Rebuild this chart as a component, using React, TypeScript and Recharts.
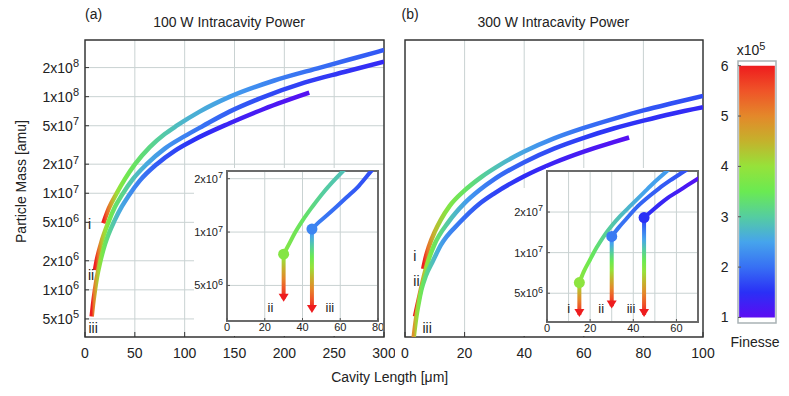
import React from "react";
import {
  ComposedChart,
  Line,
  Scatter,
  XAxis,
  YAxis,
  CartesianGrid,
  ReferenceArea,
} from "recharts";

const FONT = "'Liberation Sans', Arial, Helvetica, sans-serif";
const GRID = "#c9d2d2";
const INK = "#222";

// finesse colour scale (x10^5)
const FINESSE_STOPS = [1, 1.5, 2, 2.5, 3, 3.5, 4, 4.5, 5, 5.5, 6];
const FINESSE_COLORS = [
  "#5b0cf2", "#2a30f6", "#3770f4", "#46a4ec", "#55cda0", "#6aea52",
  "#96e23a", "#c4b22c", "#e4882a", "#ef5428", "#ee1c1e",
];
const FINESSE_TICKS = [1, 2, 3, 4, 5, 6];
const FINESSE_DOMAIN = [0.89, 6.093];

// shared particle mass axis (amu)
const MASS_TICKS = [5e5, 1e6, 2e6, 5e6, 1e7, 2e7, 5e7, 1e8, 2e8];
const MASS_DOMAIN = [3.25e5, 3.86e8];

// (a) 100 W intracavity power
const A_X_DOMAIN = [0, 300];
const A_X_TICKS = [0, 50, 100, 150, 200, 250, 300];
const A_I = [
  { x: 18.4, y: 4.9e6 }, { x: 24, y: 7e6 }, { x: 31.8, y: 1e7 }, { x: 40, y: 1.4e7 },
  { x: 50.2, y: 2e7 }, { x: 65, y: 3e7 }, { x: 80, y: 4.1e7 }, { x: 92, y: 5e7 },
  { x: 115, y: 7e7 }, { x: 145.5, y: 1e8 }, { x: 190, y: 1.47e8 }, { x: 236, y: 2e8 },
  { x: 270, y: 2.5e8 }, { x: 300, y: 3.04e8 },
];
const A_I_F = [[18.4, 6], [22, 5.3], [27, 4.6], [32, 4.0], [40, 3.6], [55, 3.3], [75, 3.0], [100, 2.7], [150, 2.4], [200, 2.1], [300, 1.8]];
const A_II = [
  { x: 10, y: 1.6e6 }, { x: 11.7, y: 2e6 }, { x: 16, y: 3e6 }, { x: 23.4, y: 5e6 },
  { x: 30, y: 7.2e6 }, { x: 36.8, y: 9.5e6 }, { x: 48, y: 1.4e7 }, { x: 61.9, y: 2e7 },
  { x: 80, y: 2.9e7 }, { x: 100, y: 3.9e7 }, { x: 118.7, y: 5e7 }, { x: 145, y: 7e7 },
  { x: 175.6, y: 9.6e7 }, { x: 220, y: 1.4e8 }, { x: 260, y: 1.8e8 }, { x: 300, y: 2.3e8 },
];
const A_II_F = [[10, 6], [13, 5.2], [16, 4.5], [20, 4.0], [25, 3.6], [32, 3.3], [42, 3.0], [60, 2.6], [85, 2.3], [120, 2.0], [180, 1.7], [300, 1.4]];
const A_III = [
  { x: 6.7, y: 5.3e5 }, { x: 8, y: 7e5 }, { x: 10, y: 1e6 }, { x: 12, y: 1.35e6 },
  { x: 15, y: 1.9e6 }, { x: 20, y: 2.95e6 }, { x: 30, y: 5.3e6 }, { x: 37, y: 7.3e6 },
  { x: 44, y: 9.5e6 }, { x: 55, y: 1.35e7 }, { x: 72, y: 2e7 }, { x: 90, y: 2.75e7 },
  { x: 110, y: 3.6e7 }, { x: 145, y: 5.3e7 }, { x: 180, y: 7.5e7 }, { x: 225, y: 1.1e8 },
];
const A_III_F = [[6.7, 6], [8.5, 5.2], [11, 4.6], [14, 4.1], [18, 3.6], [25, 3.1], [35, 2.6], [50, 2.2], [75, 1.8], [110, 1.5], [160, 1.25], [225, 1.05]];

// (b) 300 W intracavity power
const B_X_DOMAIN = [0, 100];
const B_X_TICKS = [0, 20, 40, 60, 80, 100];
const B_I = [
  { x: 6.1, y: 1.65e6 }, { x: 7, y: 2.2e6 }, { x: 8, y: 2.8e6 }, { x: 10, y: 4e6 },
  { x: 12, y: 5.3e6 }, { x: 15, y: 7.4e6 }, { x: 20, y: 1.07e7 }, { x: 25.7, y: 1.48e7 },
  { x: 32, y: 1.98e7 }, { x: 40, y: 2.7e7 }, { x: 50, y: 3.7e7 }, { x: 60, y: 4.75e7 },
  { x: 70, y: 5.9e7 }, { x: 80, y: 7.2e7 }, { x: 90, y: 8.6e7 }, { x: 100, y: 1.02e8 },
];
const B_I_F = [[6.1, 6], [7.5, 5.2], [10, 4.4], [14, 3.8], [20, 3.4], [27, 3.0], [37, 2.6], [45, 2.35], [60, 2.0], [80, 1.8], [100, 1.7]];
const B_II = [
  { x: 3.35, y: 5.3e5 }, { x: 4.2, y: 7e5 }, { x: 5.3, y: 1e6 }, { x: 6.5, y: 1.45e6 },
  { x: 7.8, y: 2e6 }, { x: 10, y: 3e6 }, { x: 14.5, y: 5e6 }, { x: 20, y: 7.9e6 },
  { x: 25, y: 1.08e7 }, { x: 30, y: 1.4e7 }, { x: 40, y: 2.1e7 }, { x: 50, y: 2.9e7 },
  { x: 60, y: 3.75e7 }, { x: 70, y: 4.68e7 }, { x: 80, y: 5.65e7 }, { x: 90, y: 6.7e7 },
  { x: 100, y: 7.77e7 },
];
const B_II_F = [[3.35, 6], [4.3, 5.2], [5.5, 4.6], [7, 4.0], [9, 3.6], [12, 3.2], [16, 2.8], [21, 2.4], [30, 2.0], [45, 1.75], [65, 1.55], [100, 1.4]];
const B_III = [
  { x: 2.8, y: 3e5 }, { x: 3.7, y: 5e5 }, { x: 4.6, y: 7.3e5 }, { x: 5.5, y: 1e6 },
  { x: 7, y: 1.4e6 }, { x: 9.4, y: 2e6 }, { x: 12, y: 2.9e6 }, { x: 18.4, y: 5e6 },
  { x: 25, y: 7.8e6 }, { x: 30, y: 1e7 }, { x: 40, y: 1.5e7 }, { x: 50, y: 2.07e7 },
  { x: 60, y: 2.7e7 }, { x: 70, y: 3.38e7 }, { x: 75.2, y: 3.78e7 },
];
const B_III_F = [[2.8, 4.9], [3.5, 4.3], [4.5, 3.8], [6, 3.4], [8, 3.0], [11, 2.6], [14, 2.3], [19, 2.0], [28, 1.7], [40, 1.45], [55, 1.25], [75.2, 1.05]];

// inset of (a)
const IA_X_DOMAIN = [0, 80];
const IA_X_TICKS = [0, 20, 40, 60, 80];
const IA_X_GRID = [20, 40, 60];
const IA_Y_DOMAIN = [3.15e6, 2.21e7];
const IA_Y_TICKS = [5e6, 1e7, 2e7];
const IA_II = [
  { x: 30, y: 7.5e6 }, { x: 33, y: 8.6e6 }, { x: 36, y: 9.9e6 }, { x: 40, y: 1.16e7 },
  { x: 45, y: 1.38e7 }, { x: 50, y: 1.62e7 }, { x: 55, y: 1.87e7 }, { x: 61.5, y: 2.21e7 },
  { x: 65, y: 2.4e7 },
];
const IA_II_F = [[30, 3.8], [40, 3.4], [51, 3.0], [65, 2.8]];
const IA_III = [
  { x: 45, y: 1.04e7 }, { x: 48, y: 1.12e7 }, { x: 52.8, y: 1.24e7 }, { x: 58, y: 1.39e7 },
  { x: 63.4, y: 1.57e7 }, { x: 70, y: 1.83e7 }, { x: 75.8, y: 2.17e7 }, { x: 79, y: 2.38e7 },
];
const IA_III_F = [[45, 2.2], [55, 2.0], [70, 1.8], [79, 1.7]];
const IA_ARROWS = [
  { x: 30, top: 7.5e6, tip: 4.05e6, f: 3.8 },
  { x: 45, top: 1.04e7, tip: 3.5e6, f: 2.2 },
];

// inset of (b)
const IB_X_DOMAIN = [0, 70];
const IB_X_TICKS = [0, 20, 40, 60];
const IB_X_GRID = [10, 20, 30, 40, 50, 60];
const IB_Y_DOMAIN = [3.06e6, 4.03e7];
const IB_Y_TICKS = [5e6, 1e7, 2e7];
const IB_I = [
  { x: 15, y: 6e6 }, { x: 17, y: 7.2e6 }, { x: 20, y: 8.9e6 }, { x: 23, y: 1.09e7 },
  { x: 26, y: 1.3e7 }, { x: 30, y: 1.58e7 }, { x: 34, y: 1.87e7 }, { x: 39, y: 2.25e7 },
  { x: 45, y: 2.8e7 }, { x: 50, y: 3.35e7 }, { x: 55, y: 3.95e7 }, { x: 57, y: 4.2e7 },
];
const IB_I_F = [[15, 3.9], [20, 3.5], [26, 3.1], [34, 2.8], [45, 2.5], [57, 2.4]];
const IB_II = [
  { x: 30, y: 1.32e7 }, { x: 33, y: 1.52e7 }, { x: 36.9, y: 1.79e7 }, { x: 42, y: 2.2e7 },
  { x: 47.8, y: 2.65e7 }, { x: 52, y: 3e7 }, { x: 57.1, y: 3.43e7 }, { x: 64, y: 4.05e7 },
  { x: 66, y: 4.25e7 },
];
const IB_II_F = [[30, 2.1], [45, 1.9], [66, 1.75]];
const IB_III = [
  { x: 45, y: 1.82e7 }, { x: 48, y: 2e7 }, { x: 52.4, y: 2.3e7 }, { x: 56, y: 2.55e7 },
  { x: 60.2, y: 2.81e7 }, { x: 65, y: 3.15e7 }, { x: 71, y: 3.63e7 },
];
const IB_III_F = [[45, 1.5], [60, 1.25], [71, 1.05]];
const IB_ARROWS = [
  { x: 15, top: 6e6, tip: 3.33e6, f: 3.9 },
  { x: 30, top: 1.32e7, tip: 3.85e6, f: 2.1 },
  { x: 45, top: 1.82e7, tip: 3.33e6, f: 1.5 },
];

// ---------- helpers ----------
const hex = (c: string) => [1, 3, 5].map((i) => parseInt(c.slice(i, i + 2), 16));
const cmap = (f: number) => {
  const v = Math.min(6, Math.max(1, f));
  let i = 0;
  while (i < FINESSE_STOPS.length - 2 && v > FINESSE_STOPS[i + 1]) i++;
  const t = (v - FINESSE_STOPS[i]) / (FINESSE_STOPS[i + 1] - FINESSE_STOPS[i]);
  const a = hex(FINESSE_COLORS[i]);
  const b = hex(FINESSE_COLORS[i + 1]);
  return `rgb(${a.map((c, k) => Math.round(c + (b[k] - c) * t)).join(",")})`;
};

const lineGrad = (id: string, data: any[], fin: number[][]) => {
  const x0 = data[0].x;
  const x1 = data[data.length - 1].x;
  return (
    <linearGradient key={id} id={id} x1="0" y1="0" x2="1" y2="0">
      {fin.map(([x, f], i) => (
        <stop key={i} offset={Math.min(1, Math.max(0, (x - x0) / (x1 - x0)))} stopColor={cmap(f)} />
      ))}
    </linearGradient>
  );
};

// stem colour runs from the dot's finesse down to the top of the scale
const stemGrad = (id: string, fTop: number) => {
  const fs = [fTop, ...FINESSE_STOPS.filter((f) => f > fTop)];
  return (
    <linearGradient key={id} id={id} x1="0" y1="0" x2="0" y2="1">
      {fs.map((f, i) => (
        <stop key={i} offset={(f - fTop) / (6 - fTop)} stopColor={cmap(f)} />
      ))}
    </linearGradient>
  );
};

const sci = (v: number) => {
  const e = Math.floor(Math.log10(v) + 1e-9);
  return { m: Math.round(v / Math.pow(10, e)), e };
};

const sciTick = (fs: number, sup: number, raise: number) => (props: any) => {
  const { x, y, payload } = props;
  const { m, e } = sci(payload.value);
  return (
    <text x={x} y={y + fs * 0.36} textAnchor="end" fontSize={fs} fill={INK} fontFamily={FONT}>
      {`${m}x10`}
      <tspan dy={-raise} fontSize={sup}>{e}</tspan>
    </text>
  );
};
const MainMassTick = sciTick(14, 11, 5.5);
const InsetMassTick = sciTick(11, 9, 4.5);

const ArrowHead = (p: any) => (
  <path d={`M${p.cx - 5},${p.cy - 8}L${p.cx + 5},${p.cy - 8}L${p.cx},${p.cy}Z`} fill={cmap(6)} />
);
const dotShape = (color: string) => (p: any) => <circle cx={p.cx} cy={p.cy} r={5.5} fill={color} />;

// ---------- panels ----------
function MainPanel({ left, width, margin, yWidth, xDomain, xTicks, curves, yLabels }: any) {
  return (
    <div style={{ position: "absolute", left, top: 0 }}>
      <ComposedChart width={width} height={396} margin={margin}>
        <defs>{curves.map((c: any) => lineGrad(c.id, c.data, c.fin))}</defs>
        <CartesianGrid stroke={GRID} verticalValues={xTicks} horizontalValues={MASS_TICKS} />
        <XAxis
          type="number"
          dataKey="x"
          domain={xDomain}
          ticks={xTicks}
          interval={0}
          allowDataOverflow
          height={30}
          axisLine={false}
          tickSize={-5}
          tickMargin={16}
          tickLine={{ stroke: "#333" }}
          tick={{ fontSize: 14, fill: INK, fontFamily: FONT }}
        />
        <YAxis
          type="number"
          dataKey="y"
          scale="log"
          domain={MASS_DOMAIN}
          ticks={MASS_TICKS}
          interval={0}
          allowDataOverflow
          width={yWidth}
          axisLine={false}
          tickSize={-4}
          tickMargin={10}
          tickLine={{ stroke: "#333" }}
          tick={yLabels ? MainMassTick : false}
        />
        {curves.map((c: any) => (
          <Line
            key={c.id}
            data={c.data}
            dataKey="y"
            type="monotone"
            stroke={`url(#${c.id})`}
            strokeWidth={4.5}
            dot={false}
            activeDot={false}
            isAnimationActive={false}
          />
        ))}
        <ReferenceArea
          x1={xDomain[0]}
          x2={xDomain[1]}
          y1={MASS_DOMAIN[0]}
          y2={MASS_DOMAIN[1]}
          fill="none"
          stroke="#333"
          strokeWidth={1.4}
        />
      </ComposedChart>
    </div>
  );
}

function Inset({ left, margin, yWidth, xHeight, xDomain, xTicks, xGrid, yDomain, yTicks, curves, arrows, stemHalf, idp, clip }: any) {
  return (
    <div
      style={{
        position: "absolute",
        left,
        top: 168,
        width: 189,
        height: 168,
        background: "#fff",
        clipPath: clip,
      }}
    >
      <ComposedChart width={189} height={168} margin={margin}>
        <defs>
          {curves.map((c: any) => lineGrad(c.id, c.data, c.fin))}
          {arrows.map((a: any, i: number) => stemGrad(`${idp}s${i}`, a.f))}
        </defs>
        <CartesianGrid stroke={GRID} verticalValues={xGrid} horizontalValues={yTicks} />
        <XAxis
          type="number"
          dataKey="x"
          domain={xDomain}
          ticks={xTicks}
          interval={0}
          allowDataOverflow
          height={xHeight}
          axisLine={false}
          tickSize={-3}
          tickMargin={5}
          tickLine={{ stroke: "#555" }}
          tick={{ fontSize: 11, fill: INK, fontFamily: FONT }}
        />
        <YAxis
          type="number"
          dataKey="y"
          scale="log"
          domain={yDomain}
          ticks={yTicks}
          interval={0}
          allowDataOverflow
          width={yWidth}
          axisLine={false}
          tickSize={-3}
          tickMargin={7}
          tickLine={{ stroke: "#555" }}
          tick={InsetMassTick}
        />
        {arrows.map((a: any, i: number) => (
          <ReferenceArea
            key={`st${i}`}
            x1={a.x - stemHalf}
            x2={a.x + stemHalf}
            y1={a.tip * 1.04}
            y2={a.top}
            fill={`url(#${idp}s${i})`}
            fillOpacity={1}
          />
        ))}
        {curves.map((c: any) => (
          <Line
            key={c.id}
            data={c.data}
            dataKey="y"
            type="monotone"
            stroke={`url(#${c.id})`}
            strokeWidth={4}
            dot={false}
            activeDot={false}
            isAnimationActive={false}
          />
        ))}
        {arrows.map((a: any, i: number) => (
          <Scatter key={`h${i}`} data={[{ x: a.x, y: a.tip }]} shape={ArrowHead} isAnimationActive={false} />
        ))}
        {arrows.map((a: any, i: number) => (
          <Scatter key={`d${i}`} data={[{ x: a.x, y: a.top }]} shape={dotShape(cmap(a.f))} isAnimationActive={false} />
        ))}
        <ReferenceArea
          x1={xDomain[0]}
          x2={xDomain[1]}
          y1={yDomain[0]}
          y2={yDomain[1]}
          fill="none"
          stroke="#6b6b6b"
          strokeWidth={2}
        />
      </ComposedChart>
    </div>
  );
}

function ColorBar() {
  const stops = FINESSE_STOPS.map((f, i) => ({ o: (6 - f) / 5, c: FINESSE_COLORS[i] })).reverse();
  return (
    <div style={{ position: "absolute", left: 700, top: 0 }}>
      <ComposedChart
        width={89}
        height={396}
        margin={{ top: 61, right: 13, bottom: 73, left: 0 }}
        data={FINESSE_TICKS.map((f) => ({ x: 0.5, y: f }))}
      >
        <defs>
          <linearGradient id="cbar" x1="0" y1="0" x2="0" y2="1">
            {stops.map((s, i) => (
              <stop key={i} offset={s.o} stopColor={s.c} />
            ))}
          </linearGradient>
        </defs>
        <XAxis type="number" dataKey="x" domain={[0, 1]} hide />
        <YAxis
          type="number"
          dataKey="y"
          domain={FINESSE_DOMAIN}
          ticks={FINESSE_TICKS}
          interval={0}
          allowDataOverflow
          width={38}
          axisLine={false}
          tickSize={-3}
          tickMargin={12.5}
          tickLine={{ stroke: "#555" }}
          tick={{ fontSize: 14, fill: INK, fontFamily: FONT }}
        />
        <ReferenceArea
          x1={0}
          x2={1}
          y1={FINESSE_DOMAIN[0]}
          y2={FINESSE_DOMAIN[1]}
          fill="#fff"
          fillOpacity={1}
          stroke="#a9b2b5"
          strokeWidth={1.5}
        />
        <ReferenceArea x1={0.03} x2={0.97} y1={1} y2={6} fill="url(#cbar)" fillOpacity={1} />
      </ComposedChart>
    </div>
  );
}

export default function App() {
  return (
    <div
      style={{
        position: "absolute",
        left: 0,
        top: 0,
        width: 789,
        height: 396,
        background: "#fff",
        fontFamily: FONT,
      }}
    >
      <MainPanel
        left={0}
        width={395}
        margin={{ top: 40, right: 11, bottom: 29, left: 0 }}
        yWidth={85}
        xDomain={A_X_DOMAIN}
        xTicks={A_X_TICKS}
        yLabels
        curves={[
          { id: "gAi", data: A_I, fin: A_I_F },
          { id: "gAii", data: A_II, fin: A_II_F },
          { id: "gAiii", data: A_III, fin: A_III_F },
        ]}
      />
      <MainPanel
        left={395}
        width={394}
        margin={{ top: 40, right: 86, bottom: 29, left: 5 }}
        yWidth={5}
        xDomain={B_X_DOMAIN}
        xTicks={B_X_TICKS}
        yLabels={false}
        curves={[
          { id: "gBi", data: B_I, fin: B_I_F },
          { id: "gBii", data: B_II, fin: B_II_F },
          { id: "gBiii", data: B_III, fin: B_III_F },
        ]}
      />
      <Inset
        left={194}
        margin={{ top: 3, right: 5, bottom: 0, left: 0 }}
        yWidth={33}
        xHeight={15}
        xDomain={IA_X_DOMAIN}
        xTicks={IA_X_TICKS}
        xGrid={IA_X_GRID}
        yDomain={IA_Y_DOMAIN}
        yTicks={IA_Y_TICKS}
        stemHalf={1.05}
        idp="ia"
        arrows={IA_ARROWS}
        curves={[
          { id: "gIAii", data: IA_II, fin: IA_II_F },
          { id: "gIAiii", data: IA_III, fin: IA_III_F },
        ]}
      />
      <Inset
        left={513}
        margin={{ top: 3, right: 4, bottom: 0, left: 0 }}
        yWidth={34}
        xHeight={14}
        xDomain={IB_X_DOMAIN}
        xTicks={IB_X_TICKS}
        xGrid={IB_X_GRID}
        yDomain={IB_Y_DOMAIN}
        yTicks={IB_Y_TICKS}
        stemHalf={0.93}
        idp="ib"
        clip="polygon(0 20px, 33px 20px, 33px 0, 100% 0, 100% 100%, 0 100%)"
        arrows={IB_ARROWS}
        curves={[
          { id: "gIBi", data: IB_I, fin: IB_I_F },
          { id: "gIBii", data: IB_II, fin: IB_II_F },
          { id: "gIBiii", data: IB_III, fin: IB_III_F },
        ]}
      />
      <ColorBar />
      <svg
        width={789}
        height={396}
        style={{ position: "absolute", left: 0, top: 0, pointerEvents: "none" }}
        fontFamily={FONT}
        fill={INK}
      >
        <text x={85} y={19} fontSize={14}>(a)</text>
        <text x={229} y={26.7} fontSize={14} textAnchor="middle">100 W Intracavity Power</text>
        <text x={401.5} y={19} fontSize={14}>(b)</text>
        <text x={553.3} y={26.7} fontSize={14} textAnchor="middle">300 W Intracavity Power</text>
        <text x={26} y={181.5} fontSize={14} textAnchor="middle" transform="rotate(-90 26 181.5)">
          Particle Mass [amu]
        </text>
        <text x={389.7} y={381.5} fontSize={14} textAnchor="middle">Cavity Length [μm]</text>
        <text x={736.7} y={55} fontSize={14}>
          x10<tspan dy={-5.5} fontSize={11}>5</tspan>
        </text>
        <text x={755} y={346.5} fontSize={14} textAnchor="middle">Finesse</text>

        <text x={88} y={228.5} fontSize={14}>i</text>
        <text x={88} y={280} fontSize={14}>ii</text>
        <text x={88.5} y={332.5} fontSize={14}>iii</text>
        <text x={413.3} y={260.7} fontSize={14}>i</text>
        <text x={413.3} y={286} fontSize={14}>ii</text>
        <text x={422.5} y={333.3} fontSize={14}>iii</text>

        <text x={267.5} y={311.5} fontSize={13}>ii</text>
        <text x={325.5} y={311.5} fontSize={13}>iii</text>
        <text x={567.3} y={312.5} fontSize={13}>i</text>
        <text x={598.3} y={312.5} fontSize={13}>ii</text>
        <text x={626.7} y={312.5} fontSize={13}>iii</text>
      </svg>
    </div>
  );
}
